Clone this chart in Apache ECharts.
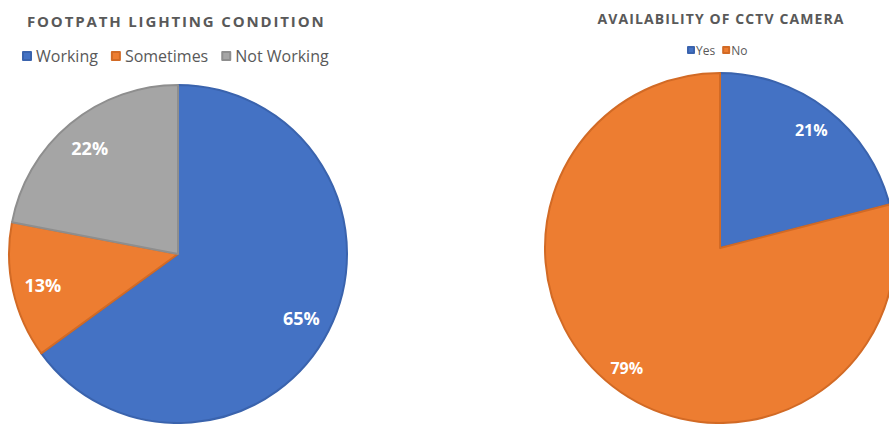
<!DOCTYPE html>
<html><head><meta charset="utf-8">
<script src="https://cdn.jsdelivr.net/npm/echarts@6/dist/echarts.min.js"></script>
<style>html,body{margin:0;padding:0;background:#fff}#c{width:889px;height:424px}</style>
</head><body><div id="c"></div>
<script>
const lightTitle = 'FOOTPATH LIGHTING CONDITION';
const lightCats = ['Working', 'Sometimes', 'Not Working'];
const lightVals = [65, 13, 22];
const cctvTitle = 'AVAILABILITY OF CCTV CAMERA';
const cctvCats = ['Yes', 'No'];
const cctvVals = [21, 79];

const fills = { 'Working': '#4472C4', 'Sometimes': '#ED7D31', 'Not Working': '#A5A5A5', 'Yes': '#4472C4', 'No': '#ED7D31' };
const borders = { 'Working': '#3A63AD', 'Sometimes': '#D26A25', 'Not Working': '#8E8E8E', 'Yes': '#3A63AD', 'No': '#D26A25' };

function mk(cats, vals) {
  return cats.map((n, i) => ({ name: n, value: vals[i], itemStyle: { color: fills[n], borderColor: borders[n], borderWidth: 2 } }));
}
function lbl(cats, vals) {
  return cats.map((n, i) => ({ name: n, value: vals[i] }));
}
const font = '"Open Sans", "Noto Sans", sans-serif';
const chart = echarts.init(document.getElementById('c'), null, { renderer: 'svg' });
chart.setOption({
  animation: false,
  title: [
    { text: lightTitle, left: 22, top: 8, textStyle: { fontFamily: font, fontSize: 15, fontWeight: 'bold', color: '#595959' } },
    { text: cctvTitle, left: 716, textAlign: 'center', top: 6, textStyle: { fontFamily: font, fontSize: 14, fontWeight: 'bold', color: '#595959' } }
  ],
  legend: [
    { data: lightCats, left: 17, top: 43, icon: 'rect', itemWidth: 8, itemHeight: 8, itemGap: 13,
      textStyle: { fontFamily: font, fontSize: 16, color: '#595959', padding: [0, 0, 0, 0] } },
    { data: cctvCats, left: 682, top: 39, icon: 'rect', itemWidth: 6, itemHeight: 6, itemGap: 7,
      textStyle: { fontFamily: font, fontSize: 12, color: '#595959', padding: [0, 0, 0, -3] } }
  ],
  series: [
    { type: 'pie', center: [178, 254], radius: [0, 169], startAngle: 90, clockwise: true,
      label: { show: false }, labelLine: { show: false }, emphasis: { disabled: true }, data: mk(lightCats, lightVals) },
    { type: 'pie', center: [178, 254], radius: [102, 169], startAngle: 90, clockwise: true, silent: true,
      itemStyle: { color: 'transparent', borderWidth: 0 }, emphasis: { disabled: true },
      label: { show: true, position: 'inside', formatter: '{c}%', color: '#fff', fontFamily: font, fontSize: 18, fontWeight: 'bold', offset: [0, 1] },
      labelLine: { show: false }, data: lbl(lightCats, lightVals) },
    { type: 'pie', center: [720, 248], radius: [0, 175], startAngle: 90, clockwise: true,
      label: { show: false }, labelLine: { show: false }, emphasis: { disabled: true }, data: mk(cctvCats, cctvVals) },
    { type: 'pie', center: [720, 248], radius: [120, 175], startAngle: 90, clockwise: true, silent: true,
      itemStyle: { color: 'transparent', borderWidth: 0 }, emphasis: { disabled: true },
      label: { show: true, position: 'inside', formatter: '{c}%', color: '#fff', fontFamily: font, fontSize: 16, fontWeight: 'bold', offset: [-1, 1] },
      labelLine: { show: false }, data: lbl(cctvCats, cctvVals) }
  ]
});
function spacing() {
  document.querySelectorAll('#c text').forEach(t => {
    const s = t.textContent;
    if (s === lightTitle) t.setAttribute('letter-spacing', '1.85');
    else if (s === cctvTitle) t.setAttribute('letter-spacing', '1.1');
  });
}
spacing();
chart.on('finished', spacing);
setTimeout(spacing, 0);
setTimeout(spacing, 50);
</script></body></html>
